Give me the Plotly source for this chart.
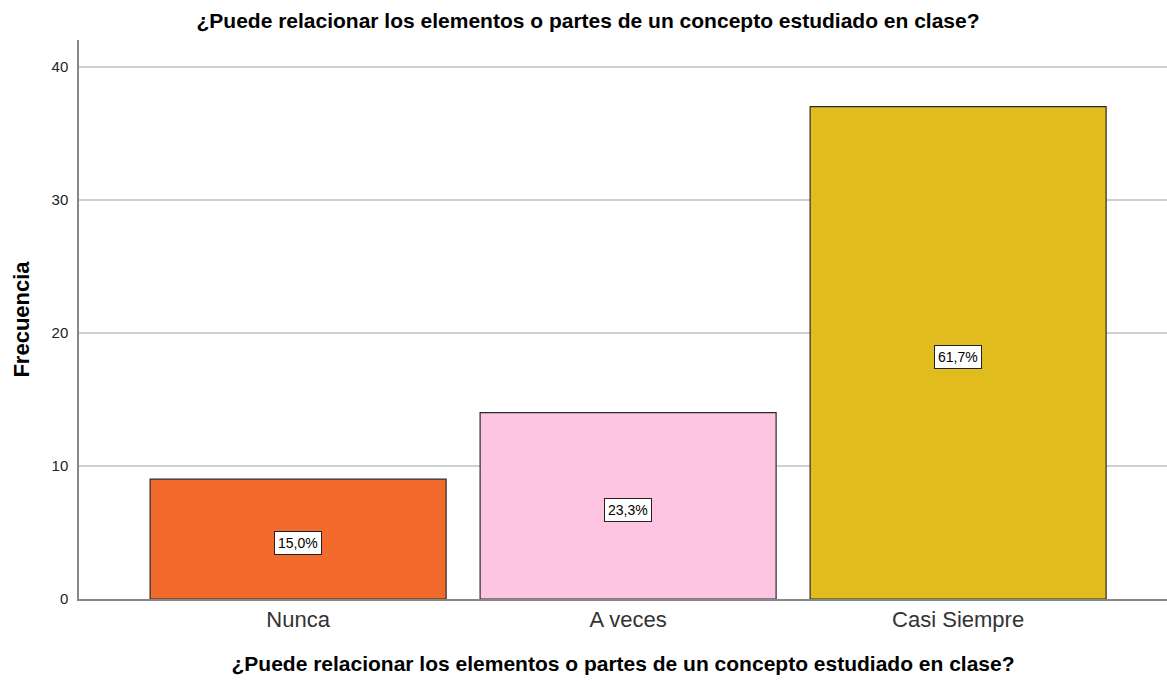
import plotly.graph_objects as go

categorias = ["Nunca", "A veces", "Casi Siempre"]
frecuencias = [9, 14, 37]
porcentajes = ["15,0%", "23,3%", "61,7%"]
colores = ["#F26A2C", "#FDC5E2", "#E1BC1F"]

pregunta = "¿Puede relacionar los elementos o partes de un concepto estudiado en clase?"

fig = go.Figure()
fig.add_trace(go.Bar(
    x=categorias,
    y=frecuencias,
    width=0.897,
    marker=dict(color=colores, line=dict(color="#2b2b2b", width=1.2)),
    hoverinfo="x+y",
))

# etiquetas de porcentaje en el centro de cada barra
for cat, f, p in zip(categorias, frecuencias, porcentajes):
    fig.add_annotation(
        x=cat, y=f / 2 - 0.3, text=p, showarrow=False,
        font=dict(family="Liberation Sans, Arial", size=14, color="#000"),
        bgcolor="white", bordercolor="#222", borderwidth=1, borderpad=3,
    )

fig.update_layout(
    width=1167, height=681,
    margin=dict(l=79, r=0, t=40, b=82),
    paper_bgcolor="white", plot_bgcolor="white",
    font=dict(family="Liberation Sans, Arial", color="#000"),
    title=dict(text="<b>" + pregunta + "</b>", x=588 / 1167, xanchor="center",
               xref="container", y=1 - 21 / 681, yanchor="middle",
               font=dict(size=21)),
    showlegend=False,
    bargap=0.1,
)
fig.update_xaxes(
    range=[-0.664, 2.633],
    showline=True, linecolor="#888", linewidth=1.5,
    ticks="", tickfont=dict(size=22, color="#333"),
    title=dict(text="<b>" + pregunta + "</b>", font=dict(size=21), standoff=25),
)
fig.update_yaxes(
    range=[0, 42],
    tickvals=[0, 10, 20, 30, 40],
    showline=True, linecolor="#888", linewidth=1.5,
    showgrid=True, gridcolor="#d0d0d0", gridwidth=1.5,
    zeroline=False,
    ticks="outside", ticklen=6, tickcolor="white",
    tickfont=dict(size=15, color="#222"),
    title=dict(text="<b>Frecuencia</b>", font=dict(size=22), standoff=16),
)

fig.write_html("out.html", config={"displayModeBar": False},
               post_script="document.body.style.margin='0';")
